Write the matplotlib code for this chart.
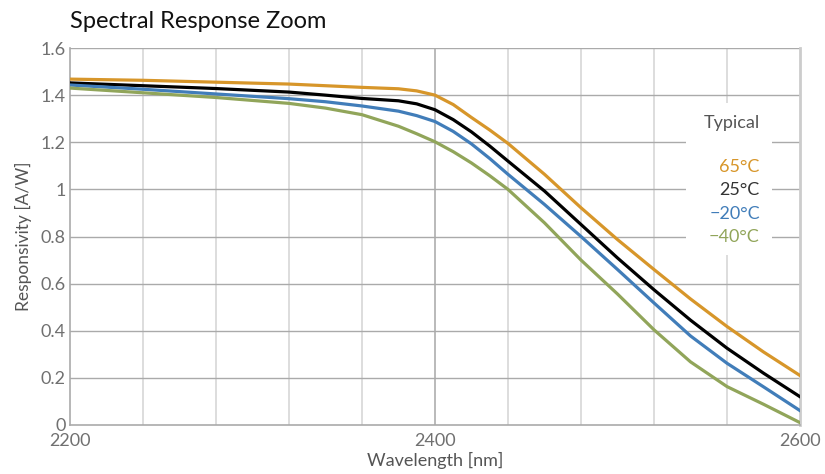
import matplotlib.pyplot as plt
from matplotlib.patches import Rectangle

plt.rcParams['font.family'] = ['Lato', 'DejaVu Sans']

wavelength = [2200, 2240, 2280, 2320, 2340, 2360, 2380, 2390, 2400, 2410, 2420, 2430,
              2440, 2460, 2480, 2500, 2520, 2540, 2560, 2580, 2600]
resp_65 = [1.468, 1.463, 1.455, 1.447, 1.440, 1.433, 1.427, 1.418, 1.400, 1.360, 1.305, 1.252,
           1.195, 1.064, 0.922, 0.787, 0.660, 0.535, 0.418, 0.310, 0.210]
resp_25 = [1.452, 1.440, 1.428, 1.413, 1.400, 1.386, 1.376, 1.363, 1.338, 1.296, 1.244, 1.184,
           1.120, 0.993, 0.851, 0.709, 0.574, 0.445, 0.326, 0.220, 0.120]
resp_m20 = [1.443, 1.425, 1.405, 1.385, 1.372, 1.354, 1.332, 1.313, 1.288, 1.246, 1.193, 1.131,
            1.064, 0.936, 0.800, 0.660, 0.518, 0.378, 0.262, 0.162, 0.061]
resp_m40 = [1.430, 1.410, 1.390, 1.365, 1.345, 1.317, 1.268, 1.236, 1.202, 1.160, 1.112, 1.058,
            1.000, 0.858, 0.700, 0.556, 0.404, 0.268, 0.163, 0.088, 0.010]

series = [("65°C", resp_65, "#D7962A"),
          ("25°C", resp_25, "#000000"),
          ("\u221220°C", resp_m20, "#417DB9"),
          ("\u221240°C", resp_m40, "#91A55A")]

x_ticks = [2200, 2400, 2600]
y_ticks = [0, 0.2, 0.4, 0.6, 0.8, 1.0, 1.2, 1.4, 1.6]
y_labels = ["0", "0.2", "0.4", "0.6", "0.8", "1", "1.2", "1.4", "1.6"]

fig = plt.figure(figsize=(8.25, 4.74), dpi=100)
ax = fig.add_axes([0.0848, 0.1034, 0.8849, 0.7953])

# grid
for xv in range(2240, 2600, 40):
    ax.axvline(xv, color="#dddddd", lw=1.4, zorder=0)
ax.axvline(2400, color="#bbbbbb", lw=1.4, zorder=0)
for yv in y_ticks[1:]:
    ax.axhline(yv, color="#aaaaaa", lw=1.0, zorder=0)

for name, vals, col in series:
    ax.plot(wavelength, vals, color=col, lw=2.3, zorder=3, solid_joinstyle="round")

ax.set_xlim(2200, 2600)
ax.set_ylim(0, 1.6)
ax.set_xticks(x_ticks)
ax.set_yticks(y_ticks)
ax.set_yticklabels(y_labels)
ax.tick_params(length=0, labelsize=13, labelcolor="#707070", pad=3)
ax.tick_params(axis="x", pad=6)
for s in ["left", "bottom"]:
    ax.spines[s].set_color("#aaaaaa")
    ax.spines[s].set_linewidth(1.2)
ax.spines["right"].set_color("#cccccc")
ax.spines["right"].set_linewidth(2)
ax.spines["top"].set_visible(False)

ax.set_xlabel("Wavelength [nm]", fontsize=13, color="#555555", labelpad=2)
ax.set_ylabel("Responsivity [A/W]", fontsize=12.5, color="#555555", labelpad=6)

# legend box
ax.add_patch(Rectangle((0.844, 0.451), 0.118, 0.403, transform=ax.transAxes,
                       facecolor="white", edgecolor="none", zorder=2))
ax.text(0.945, 0.80, "Typical", transform=ax.transAxes, ha="right", va="center",
        fontsize=13, color="#555555", zorder=4)
for i, (name, vals, col) in enumerate(series):
    tcol = "#333333" if col == "#000000" else col
    ax.text(0.945, 0.685 - i * 0.0625, name, transform=ax.transAxes, ha="right",
            va="center", fontsize=13, color=tcol, zorder=4)

fig.text(0.0848, 0.955, "Spectral Response Zoom", fontsize=17, color="#111111",
         ha="left", va="center")

fig.savefig("out.png", dpi=100)
